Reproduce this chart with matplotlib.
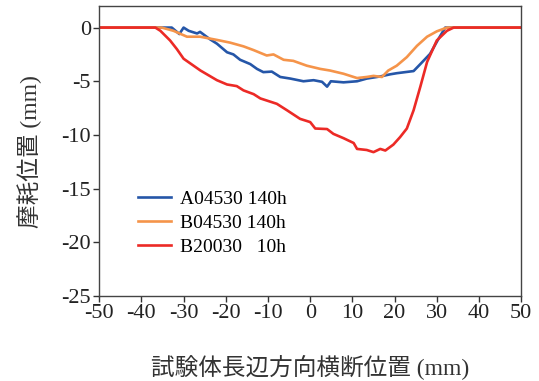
import matplotlib.pyplot as plt

plt.rcParams['font.family'] = ['Liberation Serif', 'Noto Sans CJK JP']
plt.rcParams['axes.unicode_minus'] = False

# Wear profiles across the specimen width
x_a = [-50, -45, -40, -35, -32.8, -31, -30, -28.8, -26.8, -26.1, -23.7, -22.1, -19.7, -18.2,
       -16.6, -14.2, -12.6, -11.1, -9.1, -7.1, -4.7, -1.6, 0.8, 2.8, 4.0, 4.9, 7.9, 11.1,
       13.4, 16.6, 19.0, 20.5, 22.5, 24.5, 26.1, 28.4, 30.4, 32.0, 35, 40, 45, 50]
y_a = [0, 0, 0, 0, 0, -0.6, 0, -0.3, -0.55, -0.4, -1.1, -1.5, -2.3, -2.5,
       -3.0, -3.4, -3.85, -4.15, -4.1, -4.6, -4.75, -5.0, -4.9, -5.05, -5.5, -5.0, -5.1, -5.0,
       -4.75, -4.55, -4.35, -4.25, -4.15, -4.05, -3.4, -2.45, -1.05, 0, 0, 0, 0, 0]

x_b = [-50, -45, -40, -35.2, -32.4, -29.2, -26.1, -22.1, -19.0, -15.8, -13.4, -10.3, -8.7,
       -6.3, -4.0, -0.8, 2.4, 4.7, 7.9, 11.1, 13.4, 15.0, 17.0, 18.5, 20.5, 22.9, 25.3,
       27.7, 30.0, 32.4, 35, 40, 45, 50]
y_b = [0, 0, 0, 0, -0.3, -0.85, -0.85, -1.15, -1.4, -1.75, -2.1, -2.6, -2.5,
       -3.0, -3.1, -3.55, -3.85, -4.0, -4.3, -4.7, -4.6, -4.5, -4.6, -4.0, -3.55, -2.75, -1.7,
       -0.85, -0.35, 0, 0, 0, 0, 0]

x_c = [-50, -45, -40, -36.7, -35.5, -33.2, -31.6, -30, -26, -22.1, -19.7, -17.4, -15.8,
       -13.4, -11.8, -7.9, -5.5, -2.4, 0, 1.2, 4.0, 5.5, 7.9, 10.3, 11.1, 13.4, 15.0, 16.6,
       17.8, 19.7, 21.3, 22.9, 24.5, 26.1, 27.7, 30.0, 32.4, 34.0, 40, 45, 50]
y_c = [0, 0, 0, 0, -0.3, -1.2, -2.0, -2.9, -4.0, -4.9, -5.3, -5.45, -5.85,
       -6.2, -6.6, -7.1, -7.7, -8.5, -8.8, -9.4, -9.45, -9.9, -10.3, -10.75, -11.3, -11.4, -11.6, -11.3,
       -11.45, -10.9, -10.2, -9.4, -7.7, -5.5, -3.2, -1.2, -0.3, 0, 0, 0, 0]

labels = ['A04530 140h', 'B04530 140h', 'B20030   10h']
colors = ['#2556a8', '#f5944a', '#ec2a26']

fig = plt.figure(figsize=(5.39, 3.81), dpi=100)
ax = fig.add_axes([0.184, 0.223, 0.783, 0.761])

for xs, ys, lab, c in zip([x_a, x_b, x_c], [y_a, y_b, y_c], labels, colors):
    ax.plot(xs, ys, color=c, lw=1.9, label=lab)

ax.set_xlim(-50, 50)
ax.set_ylim(-25, 2)
ax.set_xticks(range(-50, 51, 10))
ax.set_yticks(range(-25, 1, 5))
ax.tick_params(direction='out', labelsize=16, length=4, width=1, pad=2,
               colors='#333333', labelcolor='#222222')
for s in ax.spines.values():
    s.set_color('#444444')
    s.set_linewidth(1)

ax.set_xlabel('試験体長辺方向横断位置 (mm)', fontsize=17, labelpad=22, color='#333333')
ax.set_ylabel('摩耗位置 (mm)', fontsize=17, labelpad=14, color='#333333')

ax.legend(loc='upper left', bbox_to_anchor=(0.05, 0.425), frameon=False, fontsize=14,
          handlelength=1.7, handletextpad=0.45, labelspacing=0.32)

fig.savefig('out.png', dpi=100)
